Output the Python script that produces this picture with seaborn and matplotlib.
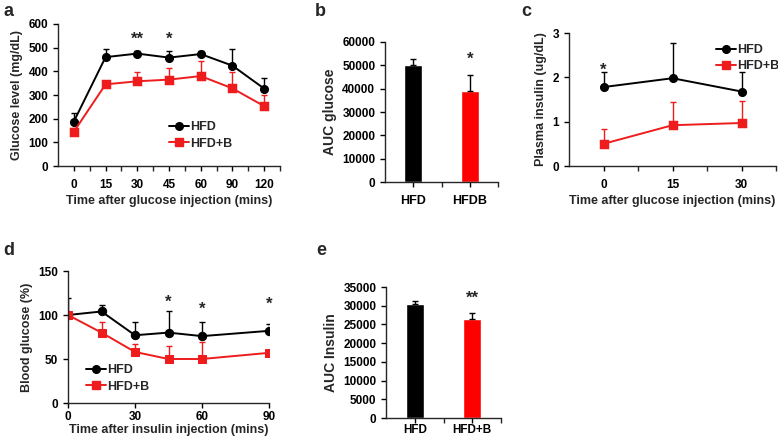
import numpy as np
import pandas as pd
import matplotlib
matplotlib.use("Agg")
import matplotlib.pyplot as plt
import seaborn as sns
from matplotlib.lines import Line2D

sns.set_style('ticks')
plt.rcParams['font.family'] = ['Liberation Sans', 'DejaVu Sans']
plt.rcParams['font.weight'] = 'bold'
plt.rcParams['axes.labelweight'] = 'bold'
plt.rcParams['axes.linewidth'] = 1.0

BLACK = '#000000'
RED = '#ee1c1c'

# a: glucose tolerance test
gtt_time = [0, 15, 30, 45, 60, 90, 120]
gtt_hfd = [188, 460, 475, 458, 473, 424, 327]
gtt_hfd_err = [35, 35, 12, 28, 15, 70, 43]
gtt_hfdb = [145, 345, 358, 365, 380, 328, 253]
gtt_hfdb_err = [15, 15, 40, 50, 62, 70, 45]

# b: AUC glucose
auc_glu_groups = ['HFD', 'HFDB']
auc_glu = [50200, 39200]
auc_glu_err = [2500, 6800]

# c: plasma insulin
ins_time = [0, 15, 30]
ins_hfd = [1.78, 1.98, 1.68]
ins_hfd_err = [0.33, 0.80, 0.44]
ins_hfdb = [0.50, 0.92, 0.97]
ins_hfdb_err = [0.33, 0.53, 0.50]

# d: insulin tolerance test
itt_time = [0, 15, 30, 45, 60, 90]
itt_hfd = [100, 104, 77, 80, 76, 82]
itt_hfd_err = [19, 7, 15, 25, 16, 8]
itt_hfdb = [100, 80, 58, 50, 50, 57]
itt_hfdb_err = [0, 12, 9, 15, 19, 0]

# e: AUC insulin
auc_ins_groups = ['HFD', 'HFD+B']
auc_ins = [30400, 26500]
auc_ins_err = [800, 1500]

TICK = 8.5
LAB = 9

fig = plt.figure(figsize=(7.78, 4.4), dpi=100)
W, H = 778, 440


def add_ax(l, r, t, b):
    return fig.add_axes([l / W, (H - b) / H, (r - l) / W, (b - t) / H])


def style(ax):
    sns.despine(ax=ax)
    ax.tick_params(axis='both', labelsize=TICK, width=1, length=3.5, colors='black')
    for lab in ax.get_xticklabels() + ax.get_yticklabels():
        lab.set_fontweight('bold')


def up_err(ax, x, y, e, c):
    ax.errorbar(x, y, yerr=[np.zeros(len(e)), e], fmt='none', ecolor=c,
                elinewidth=1, capsize=2.5, capthick=1, zorder=1)


def cat_lines(ax, times, s1, e1, s2, e2):
    df = pd.DataFrame({'t': times * 2, 'v': s1 + s2,
                       'g': ['HFD'] * len(times) + ['HFD+B'] * len(times)})
    up_err(ax, range(len(times)), s1, e1, BLACK)
    up_err(ax, range(len(times)), s2, e2, RED)
    sns.pointplot(data=df, x='t', y='v', hue='g', palette=[BLACK, RED],
                  markers=['o', 's'], linestyles='-', errorbar=None,
                  markersize=5.5, linewidth=1.4, ax=ax, legend=False)
    n = len(times)
    ax.set_xlim(-0.5, n - 0.5)
    ax.set_xticks(range(n))
    ax.set_xticklabels([str(t) for t in times])
    ax.set_xticks(np.arange(0.5, n, 1), minor=True)
    ax.tick_params(axis='x', which='major', length=0, pad=6)
    ax.tick_params(axis='x', which='minor', length=3.5, width=1)


def leg(ax, x, y):
    h = [Line2D([], [], color=BLACK, marker='o', markersize=5.5, lw=1.4),
         Line2D([], [], color=RED, marker='s', markersize=5.5, lw=1.4)]
    ax.legend(h, ['HFD', 'HFD+B'], loc='center left', bbox_to_anchor=(x, y),
              frameon=False, handlelength=1.6, handletextpad=0.1,
              labelspacing=0.35, borderpad=0, prop={'weight': 'bold', 'size': LAB})


def bars(ax, groups, vals, errs, pad):
    sns.barplot(x=groups, y=vals, hue=groups, palette=[BLACK, '#ff0000'],
                width=0.32, legend=False, ax=ax, saturation=1)
    up_err(ax, range(len(groups)), vals, errs, BLACK)
    ax.set_xlim(-0.5, 1.5)
    ax.set_xticks([0.5, 1.5], minor=True)
    ax.tick_params(axis='x', which='major', length=0, pad=pad)
    ax.tick_params(axis='x', which='minor', length=3.5, width=1)


def star(ax, x, y, s):
    ax.text(x, y, s, ha='center', va='center', fontsize=12, fontweight='bold')


# panel a
ax = add_ax(58, 280, 24, 166)
cat_lines(ax, gtt_time, gtt_hfd, gtt_hfd_err, gtt_hfdb, gtt_hfdb_err)
ax.set_ylim(0, 600)
ax.set_yticks(range(0, 601, 100))
ax.set_xlabel('Time after glucose injection (mins)', fontsize=LAB, labelpad=3)
ax.set_ylabel('Glucose level (mg/dL)', fontsize=LAB)
leg(ax, 0.47, 0.215)
star(ax, 2, 535, '**')
star(ax, 3, 535, '*')
style(ax)

# panel b
ax = add_ax(385, 498, 42, 182)
bars(ax, auc_glu_groups, auc_glu, auc_glu_err, 6)
ax.set_ylim(0, 60000)
ax.set_yticks(range(0, 60001, 10000))
ax.set_ylabel('AUC glucose', fontsize=LAB + 1)
star(ax, 1, 52500, '*')
style(ax)
ax.tick_params(axis='x', labelsize=LAB)

# panel c
ax = add_ax(569, 776, 33, 166)
cat_lines(ax, ins_time, ins_hfd, ins_hfd_err, ins_hfdb, ins_hfdb_err)
ax.set_ylim(0, 3)
ax.set_yticks([0, 1, 2, 3])
ax.set_xlabel('Time after glucose injection (mins)', fontsize=LAB, labelpad=3)
ax.set_ylabel('Plasma insulin (ug/dL)', fontsize=LAB)
leg(ax, 0.68, 0.81)
star(ax, 0, 2.17, '*')
style(ax)

# panel d
ax = add_ax(68, 269, 271, 403)
up_err(ax, itt_time, itt_hfd, itt_hfd_err, BLACK)
up_err(ax, itt_time, itt_hfdb, itt_hfdb_err, RED)
sns.lineplot(x=itt_time, y=itt_hfd, color=BLACK, marker='o', markersize=6,
             markeredgecolor=BLACK, linewidth=1.4, ax=ax)
sns.lineplot(x=itt_time, y=itt_hfdb, color=RED, marker='s', markersize=6,
             markeredgecolor=RED, linewidth=1.4, ax=ax)
ax.set_xlim(0, 90)
ax.set_xticks([0, 30, 60, 90])
ax.set_ylim(0, 150)
ax.set_yticks([0, 50, 100, 150])
ax.tick_params(axis='x', pad=2)
ax.set_xlabel('Time after insulin injection (mins)', fontsize=LAB, labelpad=1)
ax.set_ylabel('Blood glucose (%)', fontsize=LAB)
leg(ax, 0.06, 0.185)
star(ax, 45, 114, '*')
star(ax, 60, 106, '*')
star(ax, 90, 112, '*')
style(ax)

# panel e
ax = add_ax(386, 501, 287, 418)
bars(ax, auc_ins_groups, auc_ins, auc_ins_err, 1)
ax.set_ylim(0, 35000)
ax.set_yticks(range(0, 35001, 5000))
ax.set_ylabel('AUC Insulin', fontsize=LAB + 1)
star(ax, 1, 32000, '**')
style(ax)
ax.tick_params(axis='x', labelsize=LAB - 0.5)

# panel letters
for lbl, x, y in [('a', 3, 12), ('b', 315, 12), ('c', 521, 12), ('d', 3, 250), ('e', 316, 250)]:
    fig.text(x / W, 1 - y / H, lbl, fontsize=13, fontweight='bold', va='center', ha='left')

fig.savefig('out.png', dpi=100)
